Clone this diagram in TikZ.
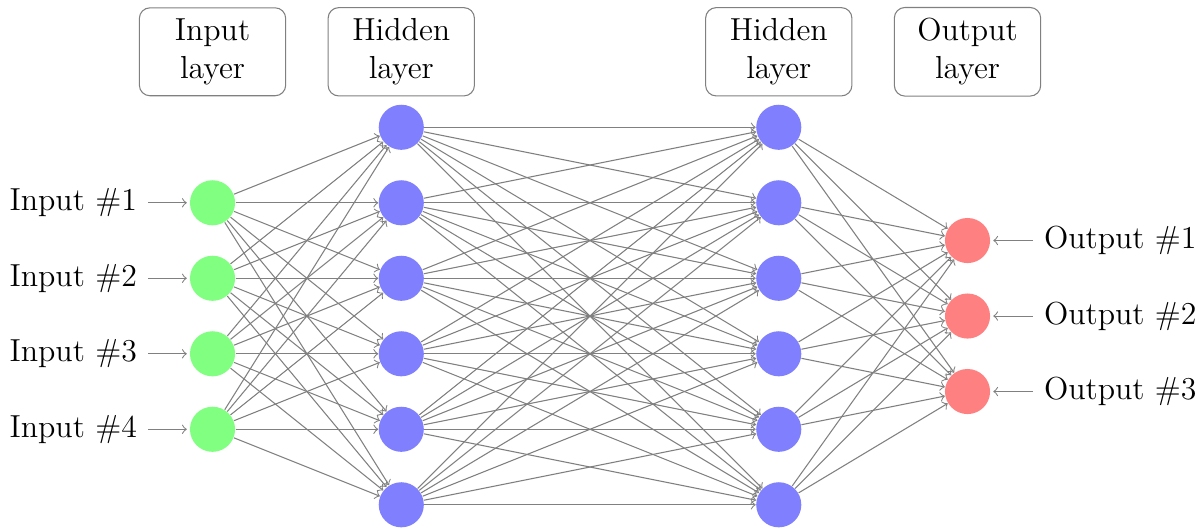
\documentclass[tikz,border=0pt,12pt]{standalone}
\begin{document}
\begin{tikzpicture}[
  neuron/.style={circle, minimum size=17pt, inner sep=0pt},
  inneuron/.style={neuron, fill=green!50},
  hidneuron/.style={neuron, fill=blue!50},
  outneuron/.style={neuron, fill=red!50},
  conn/.style={->, draw=black!50},
  pinarrow/.style={<-, draw=black!50, shorten <=1pt},
  annot/.style={draw=black!50, rounded corners, align=center, minimum width=1.938cm}
]
\useasboundingbox (-2.815,-5.334) rectangle (13.106,1.686);

\foreach \i in {1,...,4} \node[inneuron] (I\i) at (0,-\i) {};
\foreach \k in {0,...,5} \node[hidneuron] (H\k) at (2.5,-\k) {};
\foreach \k in {0,...,5} \node[hidneuron] (G\k) at (7.5,-\k) {};
\foreach \j in {1,2,3} \node[outneuron] (O\j) at (10,-\j-0.5) {};

\foreach \i in {1,...,4} {
  \node[anchor=east] (IL\i) at (-0.854,-\i) {Input \#\i};
  \draw[pinarrow] (I\i) -- (IL\i);
}
\foreach \j in {1,2,3} {
  \node[anchor=west] (OL\j) at (10.867,-\j-0.5) {Output \#\j};
  \draw[pinarrow] (O\j) -- (OL\j);
}

\foreach \i in {1,...,4} \foreach \k in {0,...,5} \draw[conn] (I\i) -- (H\k);
\foreach \i in {0,...,5} \foreach \k in {0,...,5} \draw[conn] (H\i) -- (G\k);
\foreach \i in {0,...,5} \foreach \j in {1,2,3} \draw[conn] (G\i) -- (O\j);

\node[annot] (LI) at (0,1) {Input\\layer};
\node[annot] (LH1) at (2.5,1) {Hidden\\layer};
\node[annot] (LH2) at (7.5,1) {Hidden\\layer};
\node[annot] (LO) at (10,1) {Output\\layer};
\end{tikzpicture}
\end{document}
